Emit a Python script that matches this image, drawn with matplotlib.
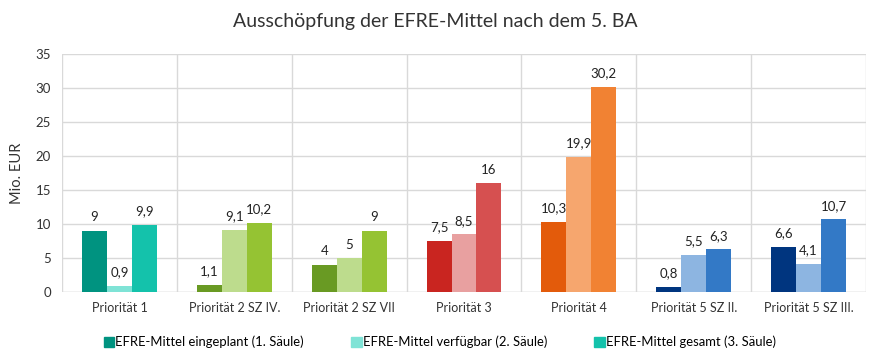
import matplotlib.pyplot as plt
import numpy as np
from matplotlib.patches import Patch

plt.rcParams['font.family'] = ['Lato', 'DejaVu Sans']

# Daten
kategorien = ["Priorität 1", "Priorität 2 SZ IV.", "Priorität 2 SZ VII", "Priorität 3",
              "Priorität 4", "Priorität 5 SZ II.", "Priorität 5 SZ III."]
eingeplant = [9, 1.1, 4, 7.5, 10.3, 0.8, 6.6]
verfuegbar = [0.9, 9.1, 5, 8.5, 19.9, 5.5, 4.1]
gesamt = [9.9, 10.2, 9, 16, 30.2, 6.3, 10.7]
serien = ["EFRE-Mittel eingeplant (1. Säule)", "EFRE-Mittel verfügbar (2. Säule)",
          "EFRE-Mittel gesamt (3. Säule)"]

# Farben je Kategorie (dunkel, hell, mittel)
farben = [
    ("#009380", "#7fe3d6", "#14c2ab"),
    ("#699a23", "#bddc8d", "#95c333"),
    ("#699a23", "#bddc8d", "#95c333"),
    ("#c92520", "#e8a0a0", "#d65050"),
    ("#e35b0b", "#f6a66e", "#f18233"),
    ("#00357f", "#8db5e1", "#3379c6"),
    ("#00357f", "#8db5e1", "#3379c6"),
]

fig = plt.figure(figsize=(8.71, 3.58), dpi=100)
ax = fig.add_axes([62 / 871, 1 - 292 / 358, 804 / 871, 238 / 358])

x = np.arange(len(kategorien))
w = 0.217
for s, werte in enumerate([eingeplant, verfuegbar, gesamt]):
    for i, v in enumerate(werte):
        xp = x[i] + (s - 1) * w
        ax.bar(xp, v, width=w, color=farben[i][s], zorder=3)
        lbl = f"{v:g}".replace(".", ",")
        ax.text(xp, v + 1.1, lbl, ha="center", va="bottom", fontsize=9.5, color="#222222")

ax.set_xlim(-0.5, len(kategorien) - 0.5)
ax.set_ylim(0, 35)
ax.set_yticks(range(0, 36, 5))
ax.set_xticks(x)
ax.set_xticklabels(kategorien, fontsize=9)
ax.tick_params(axis="y", labelsize=9.5, length=0, pad=8, colors="#333333")
ax.tick_params(axis="x", length=0, pad=7, colors="#333333")

ax.grid(axis="y", color="#d9d9d9", linewidth=1, zorder=0)
for b in np.arange(-0.5, len(kategorien), 1):
    ax.axvline(b, color="#d9d9d9", linewidth=1, zorder=0)
for sp in ax.spines.values():
    sp.set_visible(False)
ax.axhline(0, color="#d9d9d9", linewidth=1, zorder=1)

ax.set_ylabel("Mio. EUR", fontsize=10.5, color="#333333", labelpad=8)
fig.suptitle("Ausschöpfung der EFRE-Mittel nach dem 5. BA", x=0.5, y=0.965,
             fontsize=14, color="#333333")

handles = [Patch(color=c) for c in farben[0]]
fig.legend(handles, serien, loc="center", bbox_to_anchor=(0.505, 0.045), ncol=3,
           frameon=False, fontsize=9.4, handlelength=0.8, handleheight=0.8,
           handletextpad=0.1, columnspacing=3.6)

fig.savefig("out.png", dpi=100, facecolor="white")
